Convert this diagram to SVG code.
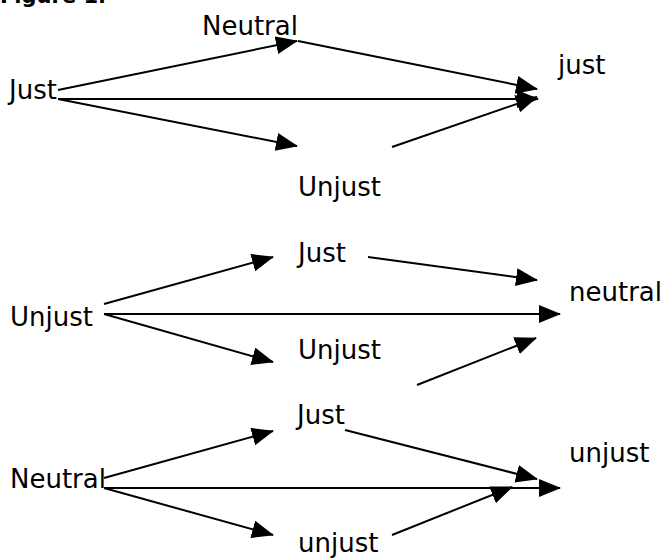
<svg xmlns="http://www.w3.org/2000/svg" width="664" height="558" viewBox="0 0 664 558">
<style>
text{font-family:"DejaVu Sans",Verdana,sans-serif;font-size:26px;fill:#000}
.title{font-weight:bold;font-size:21px}
.c line{stroke:#000;stroke-width:2;fill:none;marker-end:url(#ah)}
</style>
<defs>
<marker id="ah" markerUnits="userSpaceOnUse" markerWidth="24" markerHeight="20" refX="21" refY="9" orient="auto" viewBox="0 0 24 20">
<path d="M0,0 L22,9 L0,18 z" fill="#000"/>
</marker>
</defs>
<rect width="664" height="558" fill="#fff"/>
<text class="title" x="0" y="3">Figure 1.</text>
<g id="g1-just-src"><text x="9" y="99">Just</text></g>
<g id="g1-neutral"><text x="202" y="35">Neutral</text></g>
<g id="g1-unjust"><text x="298" y="196">Unjust</text></g>
<g id="g1-just-dst"><text x="558" y="74">just</text></g>
<g id="g2-unjust-src"><text x="10" y="326">Unjust</text></g>
<g id="g2-just"><text x="298" y="262">Just</text></g>
<g id="g2-unjust"><text x="298" y="359">Unjust</text></g>
<g id="g2-neutral-dst"><text x="569" y="301">neutral</text></g>
<g id="g3-neutral-src"><text x="10" y="488">Neutral</text></g>
<g id="g3-just"><text x="297" y="424">Just</text></g>
<g id="g3-unjust"><text x="298" y="552">unjust</text></g>
<g id="g3-unjust-dst"><text x="569" y="462">unjust</text></g>
<g id="connectors" class="c">
<line x1="58" y1="90" x2="297" y2="41"/>
<line x1="58" y1="99" x2="538" y2="99"/>
<line x1="58" y1="99" x2="297" y2="146"/>
<line x1="298" y1="41" x2="537" y2="89"/>
<line x1="392" y1="147" x2="537" y2="97"/>
<line x1="104" y1="304" x2="273" y2="257"/>
<line x1="104" y1="314" x2="560" y2="314"/>
<line x1="104" y1="314" x2="273" y2="362"/>
<line x1="368" y1="257" x2="537" y2="280"/>
<line x1="417" y1="385" x2="536" y2="338"/>
<line x1="104" y1="478" x2="273" y2="431"/>
<line x1="104" y1="488" x2="560" y2="488"/>
<line x1="104" y1="488" x2="273" y2="535"/>
<line x1="345" y1="430" x2="537" y2="479"/>
<line x1="392" y1="535" x2="512" y2="487"/>
</g>
</svg>
